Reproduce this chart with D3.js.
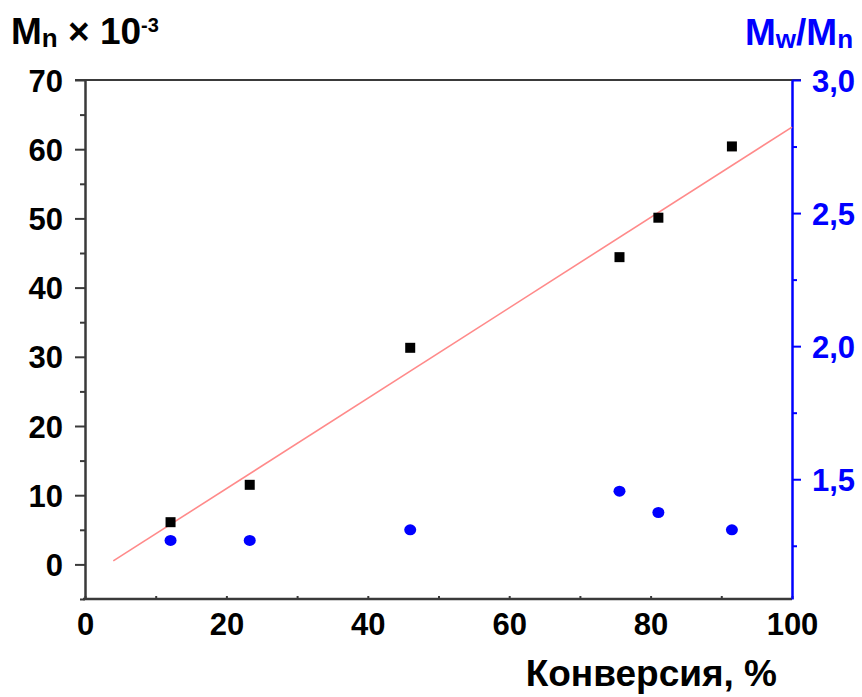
<!DOCTYPE html>
<html>
  <head>
    <meta charset="utf-8" />
    <script src="https://cdn.jsdelivr.net/npm/d3@7"></script>
    <style>
      * {
        margin: 0;
        padding: 0;
      }
      body {
        background: white;
        font-family: "Liberation Sans", Arial, sans-serif;
        font-weight: bold;
      }
      .tick text {
        font-family: "Liberation Sans", Arial, sans-serif;
        font-weight: bold;
      }
    </style>
  </head>
  <body>
    <svg id="chart"></svg>
    <script>
      // conversion, %
      const conversion = [12.1, 23.3, 46.0, 75.6, 81.1, 91.5];
      // Mn x 10^-3
      const mn = [6.1, 11.5, 31.3, 44.4, 50.1, 60.4];
      // Mw/Mn
      const pdi = [1.27, 1.27, 1.31, 1.455, 1.375, 1.31];
      // linear fit line ends
      const fitX = [4, 100];
      const fitY = [0.5, 63.2];

      const xTicks = [0, 20, 40, 60, 80, 100];
      const yLeftTicks = [0, 10, 20, 30, 40, 50, 60, 70];
      const yRightTicks = [1.5, 2.0, 2.5, 3.0];

      const w = 862;
      const h = 697;
      const plotLeft = 85,
        plotRight = 792,
        plotTop = 80,
        plotBottom = 599;

      const svg = d3.select("#chart").attr("width", w).attr("height", h);

      const x = d3.scaleLinear().domain([0, 100]).range([plotLeft, plotRight]);
      const yL = d3.scaleLinear().domain([-5, 70]).range([plotBottom, plotTop]);
      const yR = d3.scaleLinear().domain([1.05, 3.0]).range([plotBottom, plotTop]);

      const axisGrey = "#3a3a3a";
      const blue = "#0000ff";

      // top frame line
      svg
        .append("line")
        .attr("x1", plotLeft - 10)
        .attr("x2", plotRight + 9)
        .attr("y1", plotTop)
        .attr("y2", plotTop)
        .attr("stroke", axisGrey)
        .attr("stroke-width", 2);

      // bottom axis: minor ticks inward, small
      const xAxis = d3
        .axisBottom(x)
        .tickValues(d3.range(0, 101, 10))
        .tickSize(-3)
        .tickSizeOuter(0)
        .tickFormat((d) => (xTicks.includes(d) ? d : ""));
      const gx = svg
        .append("g")
        .attr("transform", "translate(0," + plotBottom + ")")
        .call(xAxis);
      gx.select(".domain")
        .attr("stroke", axisGrey)
        .attr("stroke-width", 2.5)
        .attr("d", "M" + (plotLeft - 2) + ",0H" + plotRight);
      gx.selectAll(".tick line").attr("stroke", axisGrey).attr("stroke-width", 2);
      gx.selectAll(".tick text")
        .attr("font-size", 31)
        .attr("fill", "black")
        .attr("y", 14);

      // left axis
      const yAxisL = d3
        .axisLeft(yL)
        .tickValues(d3.range(-5, 71, 5))
        .tickSize(0)
        .tickSizeOuter(0)
        .tickFormat((d) => (yLeftTicks.includes(d) ? d : ""));
      const gl = svg
        .append("g")
        .attr("transform", "translate(" + plotLeft + ",0)")
        .call(yAxisL);
      gl.select(".domain").attr("stroke", axisGrey).attr("stroke-width", 2.5);
      gl.selectAll(".tick line")
        .attr("stroke", axisGrey)
        .attr("stroke-width", 2)
        .attr("x2", (d) => (yLeftTicks.includes(d) ? -10 : -5));
      gl.selectAll(".tick text")
        .attr("font-size", 31)
        .attr("fill", "black")
        .attr("x", -22)
        .attr("dy", "0.36em");

      // right axis
      const yAxisR = d3
        .axisRight(yR)
        .tickValues([1.25, 1.5, 1.75, 2.0, 2.25, 2.5, 2.75, 3.0])
        .tickSize(0)
        .tickSizeOuter(0)
        .tickFormat((d) =>
          yRightTicks.includes(d) ? d3.format(".1f")(d).replace(".", ",") : ""
        );
      const gr = svg
        .append("g")
        .attr("transform", "translate(" + plotRight + ",0)")
        .call(yAxisR);
      gr.select(".domain").attr("stroke", blue).attr("stroke-width", 2.5);
      gr.selectAll(".tick line")
        .attr("stroke", blue)
        .attr("stroke-width", 2)
        .attr("x2", (d) => (yRightTicks.includes(d) ? 9 : 5));
      gr.selectAll(".tick text")
        .attr("font-size", 31)
        .attr("fill", blue)
        .attr("x", 20)
        .attr("dy", "0.36em");

      // fit line
      svg
        .append("line")
        .attr("x1", x(fitX[0]))
        .attr("y1", yL(fitY[0]))
        .attr("x2", x(fitX[1]))
        .attr("y2", yL(fitY[1]))
        .attr("stroke", "#ff8a8a")
        .attr("stroke-width", 1.6);

      // Mn squares
      svg
        .selectAll("rect.mn")
        .data(conversion)
        .enter()
        .append("rect")
        .attr("class", "mn")
        .attr("x", (d) => x(d) - 5)
        .attr("y", (d, i) => yL(mn[i]) - 5)
        .attr("width", 10)
        .attr("height", 10)
        .attr("fill", "black");

      // Mw/Mn circles
      svg
        .selectAll("ellipse.pdi")
        .data(conversion)
        .enter()
        .append("ellipse")
        .attr("class", "pdi")
        .attr("cx", (d) => x(d))
        .attr("cy", (d, i) => yR(pdi[i]))
        .attr("rx", 6)
        .attr("ry", 5.5)
        .attr("fill", blue);

      // left title
      const tl = svg
        .append("text")
        .attr("x", 11)
        .attr("y", 44)
        .attr("font-size", 37)
        .attr("fill", "black");
      tl.append("tspan").text("M");
      tl.append("tspan").attr("font-size", 26).attr("dy", 3).text("n");
      tl.append("tspan").attr("dy", -3).text(" × 10");
      tl.append("tspan").attr("font-size", 20).attr("dy", -12).text("-3");

      // right title
      const tr = svg
        .append("text")
        .attr("x", 745)
        .attr("y", 45)
        .attr("font-size", 37)
        .attr("fill", blue);
      tr.append("tspan").text("M");
      tr.append("tspan").attr("font-size", 26).attr("dy", 3).text("w");
      tr.append("tspan").attr("dy", -3).text("/M");
      tr.append("tspan").attr("font-size", 26).attr("dy", 3).text("n");

      // x title
      svg
        .append("text")
        .attr("x", 777)
        .attr("y", 686)
        .attr("text-anchor", "end")
        .attr("font-size", 37)
        .attr("fill", "black")
        .text("Конверсия, %");
    </script>
  </body>
</html>
